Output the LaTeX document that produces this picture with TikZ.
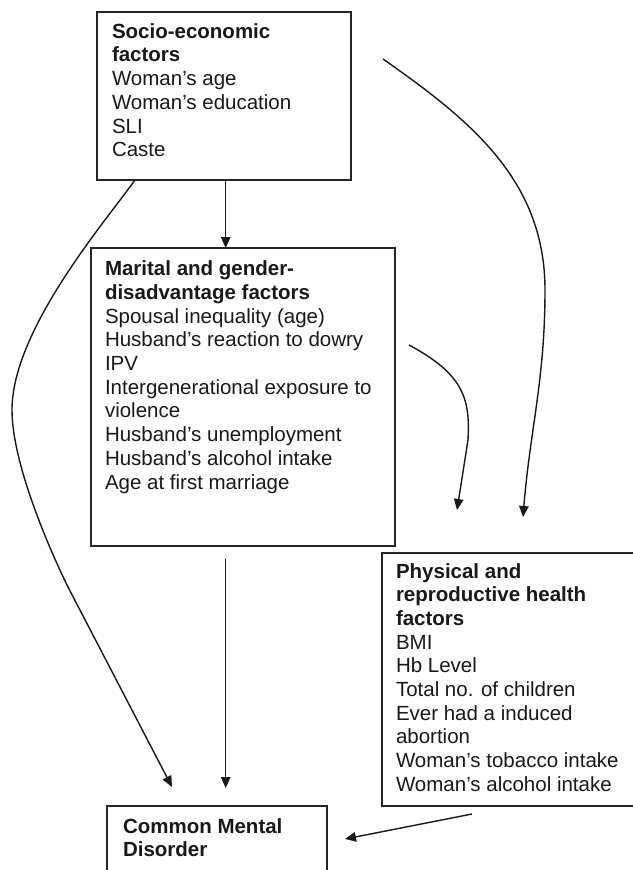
\documentclass[tikz,border=0pt]{standalone}
\usepackage{fontspec}
\setmainfont{Liberation Sans}
\usetikzlibrary{arrows.meta,calc}
\tikzset{
  box/.style={draw=black!85, line width=1.3pt, anchor=north west, inner sep=0pt, outer sep=0pt},
  lbl/.style={anchor=base west, inner sep=0pt, outer sep=0pt, text=black!90},
  arr/.style={line width=1.4pt, draw=black!90, -{Triangle[length=11pt,width=9.5pt]}},
}
\newcommand{\boxtext}[2]{\parbox[t]{#1}{\fontsize{20.5}{23.7}\selectfont\raggedright #2}}
\begin{document}
\begin{tikzpicture}[x=1pt,y=-1pt]
\useasboundingbox (0,0) rectangle (632,870);
% boxes
\node[box, minimum width=254pt, minimum height=168pt] (se) at (97,12) {};
\node[box, minimum width=304pt, minimum height=298pt] (mg) at (91,248) {};
\node[box, minimum width=263pt, minimum height=253pt] (ph) at (382,553) {};
\node[box, minimum width=220pt, minimum height=80pt] (cmd) at (107,806) {};
% texts
\node[lbl] (setext) at (112,38.3) {\boxtext{230pt}{\textbf{Socio-economic}\\\textbf{factors}\\Woman’s age\\Woman’s education\\SLI\\Caste}};
\node[lbl] (mgtext) at (105,275.7) {\boxtext{285pt}{\textbf{Marital and gender-}\\\textbf{disadvantage factors}\\Spousal inequality (age)\\Husband’s reaction to dowry\\IPV\\Intergenerational exposure to\\violence\\Husband’s unemployment\\Husband’s alcohol intake\\Age at first marriage}};
\node[lbl] (phtext) at (396,578) {\boxtext{236pt}{\textbf{Physical and}\\\textbf{reproductive health}\\\textbf{factors}\\BMI\\Hb Level\\Total no. of children\\Ever had a induced\\abortion\\Woman’s tobacco intake\\Woman’s alcohol intake}};
\node[lbl] (cmdtext) at (123,833) {\boxtext{200pt}{\textbf{Common Mental}\\\textbf{Disorder}}};
% connectors
\draw[arr] ($(se.south west)+(128.7,0)$) -- ($(mg.north west)+(134.7,0)$);
\draw[arr] ($(mg.south west)+(134.7,13)$) -- ($(cmd.north west)+(118.7,-18)$);
\draw[arr] ($(se.south west)+(38,0)$) .. controls (105,222) and (12,330) .. (12,410)
  .. controls (12,460) and (45,540) .. (68,587) -- ($(cmd.north west)+(65,-19)$);
\draw[arr] ($(se.north east)+(32,47)$) .. controls (470,120) and (545,180) .. (545,290)
  .. controls (545,380) and (530,430) .. ($(ph.north west)+(141,-36)$);
\draw[arr] ($(mg.north east)+(14,97)$) .. controls (465,375) and (470,400) .. (468,440)
  -- ($(ph.north west)+(75,-43)$);
\draw[arr] ($(ph.south west)+(90,8)$) -- ($(cmd.north east)+(18,33)$);
\end{tikzpicture}
\end{document}
